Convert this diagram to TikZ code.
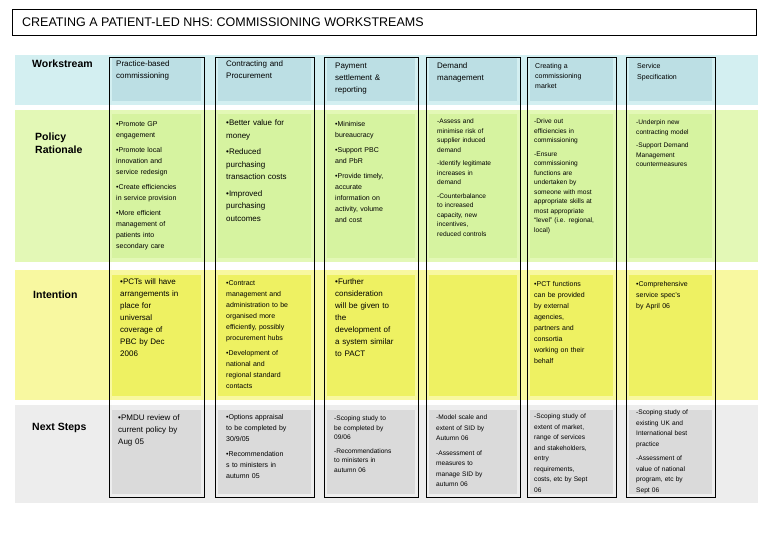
\documentclass[tikz,border=0pt]{standalone}
\usepackage{fontspec}
\setmainfont{Liberation Sans}
\definecolor{wsband}{HTML}{D3EFF1}
\definecolor{wscell}{HTML}{BCDFE4}
\definecolor{prband}{HTML}{E3F8B6}
\definecolor{prcell}{HTML}{D6F3A0}
\definecolor{inband}{HTML}{F8F8A0}
\definecolor{incell}{HTML}{EEF162}
\definecolor{nsband}{HTML}{EDEDED}
\definecolor{nscell}{HTML}{DADADA}
\begin{document}
\begin{tikzpicture}[x=1pt,y=-1pt,
  rowlab/.style={anchor=north west,font=\fontsize{10.5}{13}\selectfont\bfseries,align=left,inner sep=0},
  txt/.style={anchor=north west,font=\fontsize{7}{11}\selectfont,align=left,inner sep=0,text width=86pt},
  hdr/.style={anchor=north west,font=\fontsize{8}{12}\selectfont,align=left,inner sep=0,text width=86pt},
  col/.style={draw=black,line width=0.8pt}]
\useasboundingbox (0,0) rectangle (780,540);
\fill[white] (0,0) rectangle (780,540);
% title
\node[draw=black,line width=0.6pt,minimum width=744pt,minimum height=26pt,anchor=north west,inner sep=0] (title) at (12,9) {};
\node[anchor=west,font=\fontsize{12.5}{14}\selectfont,inner sep=0] (titletext) at (22,22) {CREATING A PATIENT-LED NHS: COMMISSIONING WORKSTREAMS};
% bands
\fill[wsband] (15,55) rectangle (758,105);
\fill[prband] (15,110) rectangle (758,262);
\fill[inband] (15,270) rectangle (758,400);
\fill[nsband] (15,405) rectangle (758,503);
% cells
\foreach \a/\b in {109/204,215/314,324/418,426/520,527/616,626/715}{
  \fill[wscell] (\a+3,58) rectangle (\b-3,101);
  \fill[prcell] (\a+3,114) rectangle (\b-3,258);
  \fill[incell] (\a+3,275) rectangle (\b-3,396);
  \fill[nscell] (\a+3,410) rectangle (\b-3,494);
  \draw[col] (\a,57) rectangle (\b,497);
}
% row labels
\node[rowlab] (l1) at (32,60) {Workstream};
\node[rowlab] (l2) at (35,133) {Policy\\Rationale};
\node[rowlab] (l3) at (33,291) {Intention};
\node[rowlab] (l4) at (32,423) {Next Steps};
% headers
\node[hdr] (h1) at (116,61) {Practice-based\\commissioning};
\node[hdr] (h2) at (226,61) {Contracting and\\Procurement};
\node[hdr] (h3) at (335,63) {Payment\\settlement \&\\reporting};
\node[hdr] (h4) at (437,63) {Demand\\management};
\node[hdr,font=\fontsize{7}{10}\selectfont] (h5) at (535,63) {Creating a\\commissioning\\market};
\node[hdr,font=\fontsize{7}{11}\selectfont] (h6) at (637,63) {Service\\Specification};
% policy
\node[txt] (p1) at (116,121) {\textbullet Promote GP\\engagement\\[4pt]\textbullet Promote local\\innovation and\\service redesign\\[4pt]\textbullet Create efficiencies\\in service provision\\[4pt]\textbullet More efficient\\management of\\patients into\\secondary care};
\node[txt,font=\fontsize{8}{12.5}\selectfont] (p2) at (226,120) {\textbullet Better value for\\money\\[4pt]\textbullet Reduced\\purchasing\\transaction costs\\[4pt]\textbullet Improved\\purchasing\\outcomes};
\node[txt] (p3) at (335,121) {\textbullet Minimise\\bureaucracy\\[4pt]\textbullet Support PBC\\and PbR\\[4pt]\textbullet Provide timely,\\accurate\\information on\\activity, volume\\and cost};
\node[txt,font=\fontsize{6.6}{9.5}\selectfont] (p4) at (437,119) {-Assess and\\minimise risk of\\supplier induced\\demand\\[4pt]-Identify legitimate\\increases in\\demand\\[4pt]-Counterbalance\\to increased\\capacity, new\\incentives,\\reduced controls};
\node[txt,font=\fontsize{6.6}{9.5}\selectfont] (p5) at (534,119) {-Drive out\\efficiencies in\\commissioning\\[4pt]-Ensure\\commissioning\\functions are\\undertaken by\\someone with most\\appropriate skills at\\most appropriate\\``level'' (i.e. regional,\\local)};
\node[txt,font=\fontsize{6.6}{9.5}\selectfont] (p6) at (636,120) {-Underpin new\\contracting model\\[4pt]-Support Demand\\Management\\countermeasures};
% intention
\node[txt,font=\fontsize{8}{12}\selectfont] (i1) at (120,279) {\textbullet PCTs will have\\arrangements in\\place for\\universal\\coverage of\\PBC by Dec\\2006};
\node[txt] (i2) at (226,280) {\textbullet Contract\\management and\\administration to be\\organised more\\efficiently, possibly\\procurement hubs\\[4pt]\textbullet Development of\\national and\\regional standard\\contacts};
\node[txt,font=\fontsize{8}{12}\selectfont] (i3) at (335,279) {\textbullet Further\\consideration\\will be given to\\the\\development of\\a system similar\\to PACT};
\node[txt] (i5) at (534,281) {\textbullet PCT functions\\can be provided\\by external\\agencies,\\partners and\\consortia\\working on their\\behalf};
\node[txt] (i6) at (636,281) {\textbullet Comprehensive\\service spec's\\by April 06};
% next steps
\node[txt,font=\fontsize{8}{12}\selectfont] (n1) at (118,415) {\textbullet PMDU review of\\current policy by\\Aug 05};
\node[txt] (n2) at (226,414) {\textbullet Options appraisal\\to be completed by\\30/9/05\\[4pt]\textbullet Recommendation\\s to ministers in\\autumn 05};
\node[txt,font=\fontsize{6.6}{9.5}\selectfont] (n3) at (334,416) {-Scoping study to\\be completed by\\09/06\\[4pt]-Recommendations\\to ministers in\\autumn 06};
\node[txt,font=\fontsize{6.6}{10.5}\selectfont] (n4) at (436,415) {-Model scale and\\extent of SID by\\Autumn 06\\[4pt]-Assessment of\\measures to\\manage SID by\\autumn 06};
\node[txt,font=\fontsize{6.6}{10.5}\selectfont] (n5) at (534,414) {-Scoping study of\\extent of market,\\range of services\\and stakeholders,\\entry\\requirements,\\costs, etc by Sept\\06};
\node[txt,font=\fontsize{6.6}{10.5}\selectfont] (n6) at (636,410) {-Scoping study of\\existing UK and\\International best\\practice\\[4pt]-Assessment of\\value of national\\program, etc by\\Sept 06};
\end{tikzpicture}
\end{document}
